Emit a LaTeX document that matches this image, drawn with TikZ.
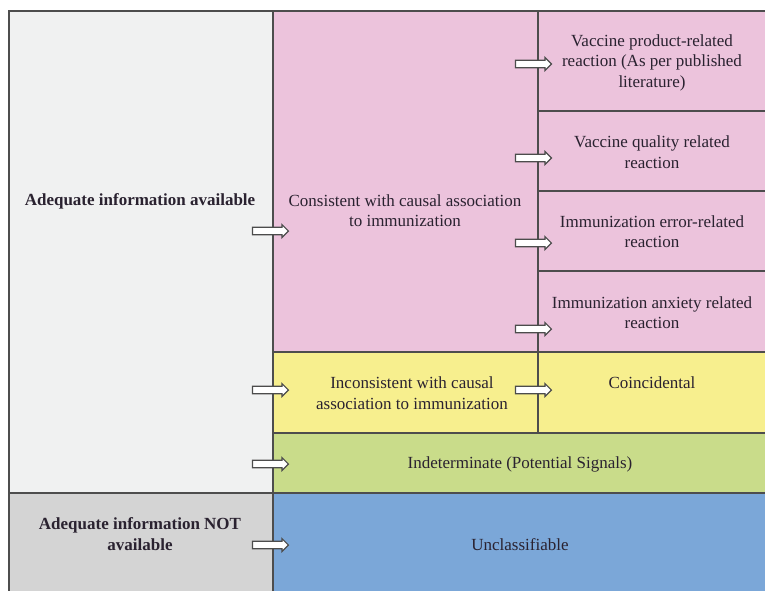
\documentclass[tikz,border=0pt]{standalone}
\usepackage{fontspec}
\setmainfont{Liberation Serif}
\usetikzlibrary{shapes.arrows}
\definecolor{pinkc}{HTML}{ECC3DC}
\definecolor{yellowc}{HTML}{F7EF8E}
\definecolor{greenc}{HTML}{C9DC8A}
\definecolor{bluec}{HTML}{7BA7D8}
\definecolor{lgray}{HTML}{F0F1F1}
\definecolor{mgray}{HTML}{D4D4D4}
\definecolor{edgec}{HTML}{4D4D4D}
\definecolor{txt}{HTML}{2A2230}
\begin{document}
\begin{tikzpicture}[x=1pt,y=-1pt,
  cell/.style={draw=edgec, line width=1.2pt},
  lbl/.style={align=center, text=txt, font=\fontsize{17}{20.5}\selectfont, inner sep=0pt},
  blbl/.style={align=center, text=txt, font=\fontsize{17}{21.5}\selectfont\bfseries, inner sep=0pt},
  barrow/.style={single arrow, draw=gray!60!black, fill=white, line width=1.2pt,
    minimum height=36pt, inner sep=3.2pt, single arrow head extend=2.6pt,
    single arrow head indent=0pt}]
\useasboundingbox (0,0) rectangle (765,590);
\begin{scope}
\clip (0,0) rectangle (765,590);
\fill[white] (0,0) rectangle (765,590);
\filldraw[cell, fill=lgray] (9,11) rectangle (273,493);
\filldraw[cell, fill=mgray] (9,493) rectangle (273,600);
\filldraw[cell, fill=pinkc] (273,11) rectangle (538,352);
\filldraw[cell, fill=pinkc] (538,11) rectangle (770,111);
\filldraw[cell, fill=pinkc] (538,111) rectangle (770,191);
\filldraw[cell, fill=pinkc] (538,191) rectangle (770,271);
\filldraw[cell, fill=pinkc] (538,271) rectangle (770,352);
\filldraw[cell, fill=yellowc] (273,352) rectangle (538,433);
\filldraw[cell, fill=yellowc] (538,352) rectangle (770,433);
\filldraw[cell, fill=greenc] (273,433) rectangle (770,493);
\filldraw[cell, fill=bluec] (273,493) rectangle (770,600);
\end{scope}
% labels
\node[blbl] (adeq) at (140,201) {Adequate information available};
\node[blbl] (notadeq) at (140,534) {Adequate information NOT\\available};
\node[lbl] (cons) at (405,210.5) {Consistent with causal association\\to immunization};
\node[lbl] (prod) at (652,62.5) {Vaccine product-related\\reaction (As per published\\literature)};
\node[lbl] (qual) at (652,152) {Vaccine quality related\\reaction};
\node[lbl] (err) at (652,231.5) {Immunization error-related\\reaction};
\node[lbl] (anx) at (652,312.5) {Immunization anxiety related\\reaction};
\node[lbl] (coin) at (652,383) {Coincidental};
\node[lbl] (incons) at (412,393) {Inconsistent with causal\\association to immunization};
\node[lbl] (indet) at (520,464) {Indeterminate (Potential Signals)};
\node[lbl] (uncl) at (520,545) {Unclassifiable};
% arrows
\node[barrow] (a1) at (268.5,231) {};
\node[barrow] (a2) at (268.5,390) {};
\node[barrow] (a3) at (268.5,464) {};
\node[barrow] (a4) at (268.5,545) {};
\node[barrow] (b1) at (531.5,64) {};
\node[barrow] (b2) at (531.5,158) {};
\node[barrow] (b3) at (531.5,243) {};
\node[barrow] (b4) at (531.5,329) {};
\node[barrow] (b5) at (531.5,390) {};
\end{tikzpicture}
\end{document}
